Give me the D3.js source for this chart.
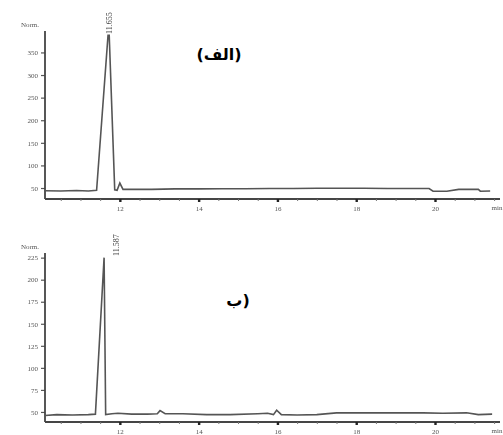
<!DOCTYPE html>
<html>
<head>
<meta charset="utf-8">
<script src="https://cdn.jsdelivr.net/npm/d3@7"></script>
<style>
  html, body { margin: 0; padding: 0; background: #fff; }
  svg { display: block; }
</style>
</head>
<body>
<script>
// chromatogram (a) - retention time (min) / signal (Norm.)
const timesA = [10.1, 10.5, 10.9, 11.2, 11.41, 11.70, 11.73, 11.87, 11.93, 12.0, 12.08, 12.3, 12.8, 13.4, 14.0, 14.6, 15.2, 15.8, 16.4, 17.0, 17.6, 18.2, 18.8, 19.4, 19.85, 19.95, 20.3, 20.6, 20.9, 21.1, 21.15, 21.4];
const signalA = [44, 43.5, 44.5, 43.5, 45, 388, 388, 46, 45, 61, 47, 47, 47, 48, 48, 48.5, 48.5, 49, 49, 49.5, 49.5, 49.5, 49, 49, 49, 43, 43, 47, 47, 47, 43, 43.5];

// chromatogram (b)
const timesB = [10.1, 10.4, 10.8, 11.2, 11.38, 11.6, 11.64, 11.8, 11.95, 12.3, 12.7, 12.95, 13.02, 13.15, 13.6, 14.2, 14.8, 15.5, 15.75, 15.9, 15.98, 16.1, 16.5, 17.0, 17.5, 18.2, 19.0, 19.7, 20.2, 20.8, 21.1, 21.45];
const signalB = [46, 47, 46.5, 47, 47.5, 225, 47, 48, 48.5, 47.5, 47.5, 48, 51.5, 48, 48, 47, 47, 48, 48.5, 47, 52, 47, 46.5, 47, 49, 49, 49, 49, 48.5, 49, 47, 47.5];

const yTicksA = [50, 100, 150, 200, 250, 300, 350];
const yTicksB = [50, 75, 100, 125, 150, 175, 200, 225];
const xMajorTicks = [12, 14, 16, 18, 20];
const xMinorTicks = d3.range(10.5, 21.6, 0.5);
const peakTimes = [11.70, 11.6];
const peakLabels = ["11.655", "11.587"];
const panelTitles = ["(الف)", "(ب"];

const W = 503, H = 435;
const svg = d3.select('body').append('svg').attr('width', W).attr('height', H);

const defs = svg.append('defs');
defs.append('filter').attr('id', 'soft')
  .append('feGaussianBlur').attr('stdDeviation', 0.5);

const x = d3.scaleLinear().domain([10.1, 21.65]).range([45, 500]);

const panels = [
  { t: timesA, v: signalA, ticks: yTicksA, y: d3.scaleLinear().domain([25.7, 393]).range([199, 33]),
    top: 33, bottom: 199, title: panelTitles[0], titleX: 219, titleY: 60, label: peakLabels[0], peak: peakTimes[0], labelDx: 1 },
  { t: timesB, v: signalB, ticks: yTicksB, y: d3.scaleLinear().domain([38.6, 228]).range([422, 255]),
    top: 255, bottom: 422, title: panelTitles[1], titleX: 238, titleY: 306, label: peakLabels[1], peak: peakTimes[1], labelDx: 12 }
];

panels.forEach(p => {
  const g = svg.append('g').attr('filter', 'url(#soft)');

  // y axis
  const yAxis = d3.axisLeft(p.y).tickValues(p.ticks).tickSize(4).tickPadding(3);
  const ya = g.append('g').attr('transform', 'translate(45,0)').call(yAxis);
  ya.select('.domain').remove();
  ya.selectAll('line').attr('stroke', '#555').attr('stroke-width', 1.2);
  ya.selectAll('text').attr('fill', '#555').style('font-family', 'Liberation Serif').style('font-size', '7px');
  g.append('line').attr('x1', 45).attr('x2', 45).attr('y1', p.top - 2).attr('y2', p.bottom)
    .attr('stroke', '#444').attr('stroke-width', 1.8);
  g.append('text').attr('x', 39).attr('y', p.top - 8 + 2)
    .attr('text-anchor', 'end').attr('fill', '#555')
    .style('font-family', 'Liberation Serif').style('font-size', '7px').text('Norm.');

  // x axis
  g.append('line').attr('x1', 45).attr('x2', 500).attr('y1', p.bottom).attr('y2', p.bottom)
    .attr('stroke', '#444').attr('stroke-width', 1.8);
  const xMinor = d3.axisBottom(x).tickValues(xMinorTicks).tickSize(2).tickFormat('');
  const xm = g.append('g').attr('transform', `translate(0,${p.bottom})`).call(xMinor);
  xm.select('.domain').remove();
  xm.selectAll('line').attr('stroke', '#777');
  const xMajor = d3.axisBottom(x).tickValues(xMajorTicks).tickSize(3).tickPadding(4);
  const xa = g.append('g').attr('transform', `translate(0,${p.bottom})`).call(xMajor);
  xa.select('.domain').remove();
  xa.selectAll('line').attr('stroke', '#222').attr('stroke-width', 2.4);
  xa.selectAll('text').attr('fill', '#555').style('font-family', 'Liberation Serif').style('font-size', '7px');
  g.append('text').attr('x', 497).attr('y', p.bottom + 11)
    .attr('text-anchor', 'middle').attr('fill', '#555')
    .style('font-family', 'Liberation Serif').style('font-size', '7px').text('min');

  // trace
  const pts = p.t.map((t, i) => [t, p.v[i]]);
  const line = d3.line().x(d => x(d[0])).y(d => p.y(d[1]));
  g.append('path').datum(pts).attr('d', line)
    .attr('fill', 'none').attr('stroke', '#555').attr('stroke-width', 1.6);

  // peak label (rotated)
  const lx = x(p.peak) + p.labelDx;
  g.append('text')
    .attr('transform', `translate(${lx + 2.5},${p.top + 1}) rotate(-90)`)
    .attr('fill', '#444')
    .style('font-family', 'Liberation Serif').style('font-size', '8px')
    .text(p.label);

  // panel title (Arabic)
  svg.append('text').attr('x', p.titleX).attr('y', p.titleY)
    .attr('text-anchor', 'middle').attr('direction', 'rtl')
    .style('font-family', 'DejaVu Sans').style('font-weight', 'bold').style('font-size', '16px')
    .attr('fill', '#000').text(p.title);
});
</script>
</body>
</html>
